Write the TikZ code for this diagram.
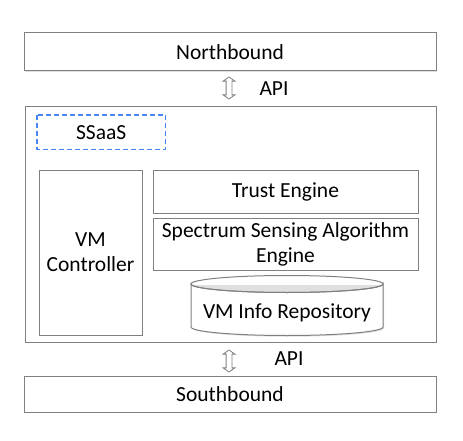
\documentclass[tikz,border=0pt]{standalone}
\usepackage{fontspec}
\setmainfont{Carlito}
\usetikzlibrary{shapes.arrows,shadows}
\definecolor{linegray}{RGB}{128,128,128}
\definecolor{dashblue}{rgb}{0.28,0.52,0.95}
\begin{document}
\begin{tikzpicture}[x=1pt,y=-1pt,
  every node/.style={font=\fontsize{21.5}{25}\selectfont, text=black},
  box/.style={draw=linegray, line width=1pt, fill=white, inner sep=0pt, outer sep=0pt,
    anchor=north west, align=center,
    drop shadow={shadow xshift=1.2pt, shadow yshift=-1.2pt, opacity=0.25, fill=gray}},
  dashline/.style={draw=dashblue, line width=1.4pt, dash pattern=on 5pt off 3pt},
  updown/.style={shape=double arrow, draw=linegray, fill=white, line width=0.8pt,
    rotate=90, minimum height=22pt, minimum width=11pt, inner sep=2.5pt,
    double arrow head extend=3pt, double arrow tip angle=110}
]
\useasboundingbox (0,0) rectangle (463,441);

\node[box, minimum width=412pt, minimum height=38pt] (north) at (24,33) {Northbound};
\node[updown] (api1) at (229,88) {};
\node (api1lbl) at (274,89) {API};

\node[box, minimum width=411pt, minimum height=235pt] (main) at (25,107) {};
\node[inner sep=0pt, minimum width=128pt, minimum height=34pt, anchor=north west] (ssaas) at (37,115) {SSaaS};
\draw[dashline] (ssaas.north west) rectangle (ssaas.south east);
\node[box, minimum width=103pt, minimum height=165pt] (vmc) at (39,170) {VM\\Controller};
\node[box, minimum width=265pt, minimum height=43pt] (trust) at (153,170) {Trust Engine};
\node[box, minimum width=265pt, minimum height=52pt] (ssae) at (153,218) {Spectrum Sensing Algorithm\\Engine};

% cylinder (VM Info Repository)
\fill[gray, opacity=0.25] (192.2,285.2) -- (192.2,328.2) arc[start angle=180,end angle=0,x radius=96,y radius=8.5] -- (384.2,285.2) -- cycle;
\draw[linegray, line width=1pt, fill=white] (191,284) -- (191,327) arc[start angle=180,end angle=0,x radius=96,y radius=8.5] -- (383,284) arc[start angle=0,end angle=180,x radius=96,y radius=8.5] -- cycle;
\draw[linegray, line width=1pt] (287,284) ellipse[x radius=96, y radius=8.5];
\node (repo) at (287,313) {VM Info Repository};

\node[updown] (api2) at (229,361) {};
\node (api2lbl) at (289,359) {API};

\node[box, minimum width=412pt, minimum height=36pt] (south) at (24,376) {Southbound};
\end{tikzpicture}
\end{document}
